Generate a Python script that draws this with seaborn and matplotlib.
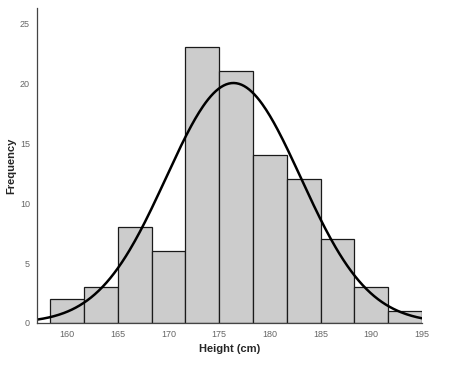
import numpy as np
import pandas as pd
import matplotlib
matplotlib.use("Agg")
import matplotlib.pyplot as plt
import seaborn as sns

# histogram counts (11 bins, 158.3 to 195 cm)
bin_edges = list(np.linspace(158.33, 195.0, 12))
counts = [2, 3, 8, 6, 23, 21, 14, 12, 7, 3, 1]
x_ticks = [160, 165, 170, 175, 180, 185, 190, 195]
y_ticks = [0, 5, 10, 15, 20, 25]

# fitted normal curve parameters
mean_height = 176.4
sd_height = 6.64

sns.set_style("white")
plt.rcParams['font.family'] = ['Liberation Sans', 'DejaVu Sans']

edges = np.array(bin_edges)
centers = (edges[:-1] + edges[1:]) / 2
df = pd.DataFrame({'height': centers, 'count': counts})

fig = plt.figure(figsize=(4.56, 3.66), dpi=100)
ax = fig.add_axes([0.081, 0.1175, 0.844, 0.861])

sns.histplot(data=df, x='height', weights='count', bins=bin_edges, ax=ax,
             color='#cccccc', edgecolor='#1a1a1a', linewidth=0.9, alpha=1)

# normal curve scaled to counts
bw = edges[1] - edges[0]
n = sum(counts)
xs = np.linspace(157, 195, 300)
ys = n * bw * np.exp(-0.5 * ((xs - mean_height) / sd_height) ** 2) / (sd_height * np.sqrt(2 * np.pi))
sns.lineplot(x=xs, y=ys, ax=ax, color='black', linewidth=1.8)

ax.set_xlim(157, 195)
ax.set_ylim(0, 26.3)
ax.set_xticks(x_ticks)
ax.set_yticks(y_ticks)
ax.tick_params(axis='both', labelsize=6.5, colors='#555555', length=3, width=0.8,
               direction='out', pad=2)
ax.tick_params(labelcolor='#666666')
for side in ['top', 'right']:
    ax.spines[side].set_visible(False)
for side in ['left', 'bottom']:
    ax.spines[side].set_color('#444444')
    ax.spines[side].set_linewidth(0.9)

ax.set_xlabel('Height (cm)', fontsize=8, fontweight='bold', labelpad=4)
ax.set_ylabel('Frequency', fontsize=8, fontweight='bold', labelpad=3)

fig.savefig('out.png', dpi=100)
